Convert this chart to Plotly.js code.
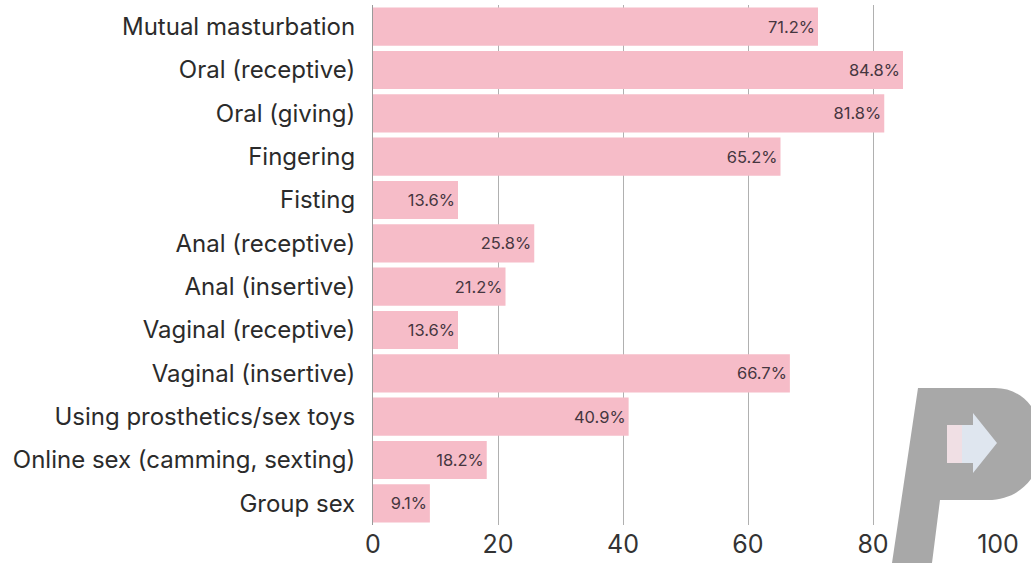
<!DOCTYPE html>
<html>
<head>
<meta charset="utf-8">
<script src="https://cdn.plot.ly/plotly-3.0.1.min.js"></script>
<style>
  html, body { margin: 0; padding: 0; background: #ffffff; }
  #chart { width: 1031px; height: 563px; }
</style>
</head>
<body>
<div id="chart"></div>
<script>
// Sexual activities, share of respondents (%)
const activities = [
  "Mutual masturbation",
  "Oral (receptive)",
  "Oral (giving)",
  "Fingering",
  "Fisting",
  "Anal (receptive)",
  "Anal (insertive)",
  "Vaginal (receptive)",
  "Vaginal (insertive)",
  "Using prosthetics/sex toys",
  "Online sex (camming, sexting)",
  "Group sex"
];
const shares = [71.2, 84.8, 81.8, 65.2, 13.6, 25.8, 21.2, 13.6, 66.7, 40.9, 18.2, 9.1];
const xTicks = [0, 20, 40, 60, 80, 100];

const W = 1031, H = 563;
const M = { l: 373, r: 33, t: 5, b: 38 };
const pw = W - M.l - M.r, ph = H - M.t - M.b;
// convert page pixels to paper coordinates for the logo mark
const px = x => ((x - M.l) / pw).toFixed(4);
const py = y => ((H - M.b - y) / ph).toFixed(4);
const pt = (x, y) => `${px(x)},${py(y)}`;

// slanted "P" watermark with an arrow inside its bowl
const logoPath =
  `M ${pt(918, 388)} L ${pt(995, 388)} ` +
  `C ${pt(1022, 388)} ${pt(1042, 410)} ${pt(1042, 443)} ` +
  `C ${pt(1042, 476)} ${pt(1020, 500)} ${pt(988, 500)} ` +
  `L ${pt(940, 500)} L ${pt(932, 563)} L ${pt(892, 563)} Z`;
const arrowLeft =
  `M ${pt(947, 425)} L ${pt(962, 425)} L ${pt(962, 463)} L ${pt(947, 463)} Z`;
const arrowRight =
  `M ${pt(962, 425)} L ${pt(973, 425)} L ${pt(973, 413)} L ${pt(997, 443)} ` +
  `L ${pt(973, 473)} L ${pt(973, 463)} L ${pt(962, 463)} Z`;

const trace = {
  type: "bar",
  orientation: "h",
  y: activities,
  x: shares,
  text: shares.map(v => v.toFixed(1) + "%"),
  textposition: "inside",
  insidetextanchor: "end",
  textangle: 0,
  constraintext: "none",
  textfont: { family: "Inter, 'Open Sans', sans-serif", size: 16.5, color: "#45363f" },
  marker: { color: "#f6bcc8", line: { width: 0 } },
  hoverinfo: "skip"
};

const layout = {
  width: W,
  height: H,
  margin: M,
  paper_bgcolor: "#ffffff",
  plot_bgcolor: "#ffffff",
  bargap: 0.12,
  showlegend: false,
  font: { family: "Inter, 'Open Sans', sans-serif", color: "#2b2b2b" },
  xaxis: {
    range: [0, 100],
    tickvals: xTicks,
    ticktext: xTicks.map(String),
    showgrid: true,
    gridcolor: "#b0b0b0",
    gridwidth: 1,
    zeroline: false,
    showline: false,
    ticks: "",
    ticklabelstandoff: 2,
    tickfont: { size: 25, color: "#333333" },
    fixedrange: true
  },
  yaxis: {
    autorange: "reversed",
    showgrid: false,
    zeroline: false,
    showline: true,
    linecolor: "#9a9a9a",
    linewidth: 1,
    ticks: "",
    ticklabelstandoff: 12,
    tickfont: { size: 24, color: "#2b2b2b" },
    fixedrange: true
  },
  shapes: [
    {
      type: "path", xref: "paper", yref: "paper", layer: "above",
      path: logoPath, fillcolor: "rgba(163,163,163,0.95)", line: { width: 0 }
    },
    {
      type: "path", xref: "paper", yref: "paper", layer: "above",
      path: arrowLeft, fillcolor: "#f0dfe4", line: { width: 0 }
    },
    {
      type: "path", xref: "paper", yref: "paper", layer: "above",
      path: arrowRight, fillcolor: "#dfe6ef", line: { width: 0 }
    }
  ]
};

Plotly.newPlot("chart", [trace], layout, { displayModeBar: false, staticPlot: true });
</script>
</body>
</html>
